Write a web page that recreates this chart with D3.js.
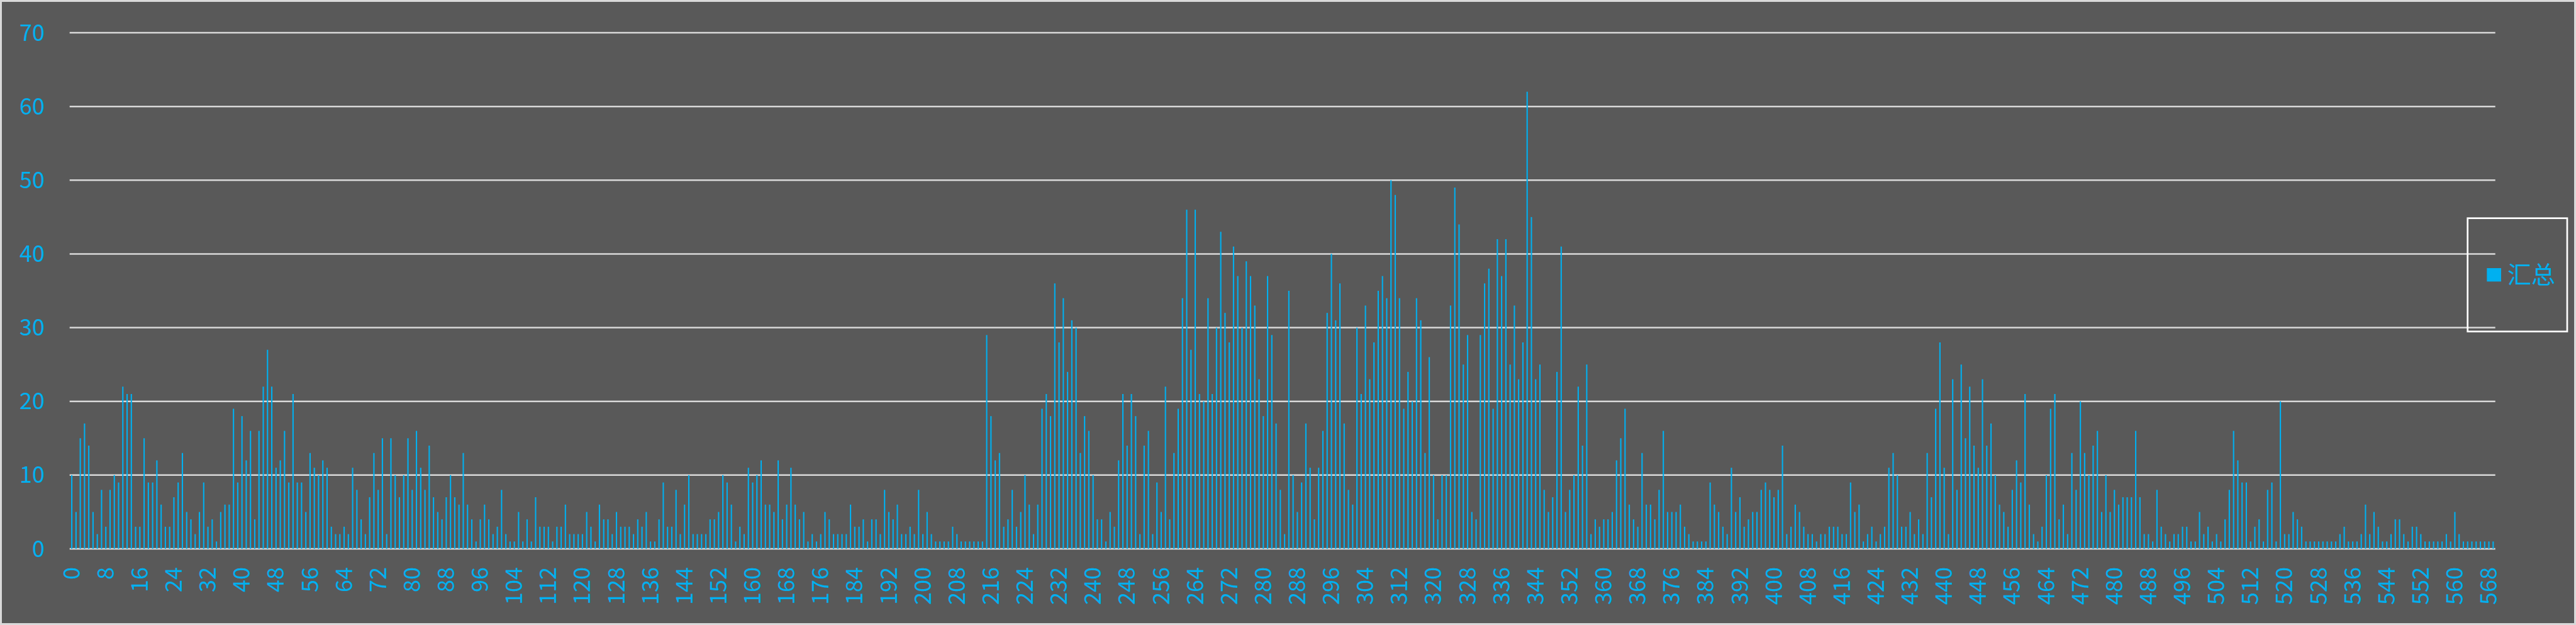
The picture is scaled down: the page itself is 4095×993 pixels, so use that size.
<!DOCTYPE html>
<html>
<head>
<meta charset="utf-8">
<script src="https://cdn.jsdelivr.net/npm/d3@7"></script>
<style>
  body { margin: 0; background: #595959; }
  svg { display: block; }
</style>
</head>
<body>
<svg width="4095" height="993"></svg>
<script>
var values = [
  10,5,15,17,14,5,2,8,3,8,   10,9,22,21,21,3,3,15,9,9,
  12,6,3,3,7,9,13,5,4,2,     5,9,3,4,1,5,6,6,19,9,
  18,12,16,4,16,22,27,22,11,12, 16,9,21,9,9,5,13,11,10,12,
  11,3,2,2,3,2,11,8,4,2,     7,13,8,15,2,15,10,7,10,15,
  8,16,11,8,14,7,5,4,7,10,   7,6,13,6,4,1,4,6,4,2,
  3,8,2,1,1,5,1,4,1,7,       3,3,3,1,3,3,6,2,2,2,
  2,5,3,1,6,4,4,2,5,3,       3,3,2,4,3,5,1,1,4,9,
  3,3,8,2,6,10,2,2,2,2,      4,4,5,10,9,6,1,3,2,11,
  9,10,12,6,6,5,12,4,6,11,   6,4,5,1,2,1,2,5,4,2,
  2,2,2,6,3,3,4,1,4,4,       2,8,5,4,6,2,2,3,2,8,
  2,5,2,1,1,1,1,3,2,1,       1,1,1,1,1,29,18,12,13,3,
  4,8,3,5,10,6,2,6,19,21,    18,36,28,34,24,31,30,13,18,16,
  10,4,4,1,5,3,12,21,14,21,  18,2,14,16,2,9,5,22,4,13,
  19,34,46,27,46,21,20,34,21,30, 43,32,28,41,37,30,39,37,33,23,
  18,37,29,17,8,2,35,10,5,9, 17,11,4,11,16,32,40,31,36,17,
  8,6,30,21,33,23,28,35,37,34, 50,48,34,19,24,20,34,31,13,26,
  10,4,10,10,33,49,44,25,29,5, 4,29,36,38,19,42,37,42,25,33,
  23,28,62,45,23,25,8,5,7,24, 41,5,8,10,22,14,25,2,4,3,
  4,4,5,12,15,19,6,4,3,13,   6,6,4,8,16,5,5,5,6,3,
  2,1,1,1,1,9,6,5,3,2,       11,5,7,3,4,5,5,8,9,8,
  7,8,14,2,3,6,5,3,2,2,      1,2,2,3,3,3,2,2,9,5,
  6,1,2,3,1,2,3,11,13,10,    3,3,5,2,4,2,13,7,19,28,
  11,2,23,8,25,15,22,14,11,23, 14,17,10,6,5,3,8,12,9,21,
  6,2,1,3,10,19,21,4,6,2,    13,8,20,13,10,14,16,5,10,5,
  8,6,7,7,7,16,7,2,2,1,      8,3,2,1,2,2,3,3,1,1,
  5,2,3,1,2,1,4,8,16,12,     9,9,1,3,4,1,8,9,1,20,
  2,2,5,4,3,1,1,1,1,1,       1,1,1,2,3,1,1,1,2,6,
  2,5,3,1,1,2,4,4,2,1,       3,3,2,1,1,1,1,1,2,1,
  5,2,1,1,1,1,1,1,1,1
];
var categories = values.map(function (d, i) { return i; });
var tickLabels = categories.filter(function (c) { return c % 8 === 0; });
var yTicks = [0, 10, 20, 30, 40, 50, 60, 70];
var seriesName = "汇总";

var blue = "#00b0f0";
var grid = "#d9d9d9";
var font = "'Noto Sans CJK SC', 'Noto Sans', sans-serif";

var svg = d3.select("svg");

var x = d3.scaleBand().domain(categories).range([110.7, 3966.7])
  .paddingInner(0.69).paddingOuter(0.345);
var y = d3.scaleLinear().domain([0, 70]).range([872, 52]);

// outer frame
svg.append("rect")
  .attr("x", 1.5).attr("y", 1.5).attr("width", 4092).attr("height", 990)
  .attr("fill", "#595959").attr("stroke", grid).attr("stroke-width", 3);

// gridlines
svg.append("g").selectAll("line").data(yTicks).enter().append("line")
  .attr("x1", 110.7).attr("x2", 3966.7)
  .attr("y1", function (d) { return y(d); })
  .attr("y2", function (d) { return y(d); })
  .attr("stroke", grid).attr("stroke-width", 2.5);

// y labels
svg.append("g").selectAll("text").data(yTicks).enter().append("text")
  .attr("x", 71)
  .attr("y", function (d) { return y(d); })
  .attr("dy", "0.35em")
  .attr("text-anchor", "end")
  .attr("fill", blue).attr("font-family", font).attr("font-size", 36)
  .text(function (d) { return d; });

// bars
svg.append("g").selectAll("rect").data(values).enter().append("rect")
  .attr("x", function (d, i) { return x(categories[i]); })
  .attr("width", x.bandwidth())
  .attr("y", function (d) { return y(d); })
  .attr("height", function (d) { return y(0) - y(d); })
  .attr("fill", blue);

// x labels, rotated
svg.append("g").selectAll("text").data(tickLabels).enter().append("text")
  .attr("transform", function (d) {
    return "translate(" + (x(d) + x.bandwidth() / 2) + ",901) rotate(-90)";
  })
  .attr("dy", "0.35em")
  .attr("text-anchor", "end")
  .attr("fill", blue).attr("font-family", font).attr("font-size", 36)
  .text(function (d) { return d; });

// legend
var legend = svg.append("g");
legend.append("rect")
  .attr("x", 3922.7).attr("y", 346.7).attr("width", 158.3).attr("height", 180)
  .attr("fill", "none").attr("stroke", "#ffffff").attr("stroke-width", 2.7);
legend.append("rect")
  .attr("x", 3953.3).attr("y", 426).attr("width", 22.7).attr("height", 21.3)
  .attr("fill", blue);
legend.append("text")
  .attr("x", 3986).attr("y", 436.5).attr("dy", "0.35em")
  .attr("fill", blue).attr("font-family", font).attr("font-size", 38)
  .text(seriesName);
</script>
</body>
</html>
